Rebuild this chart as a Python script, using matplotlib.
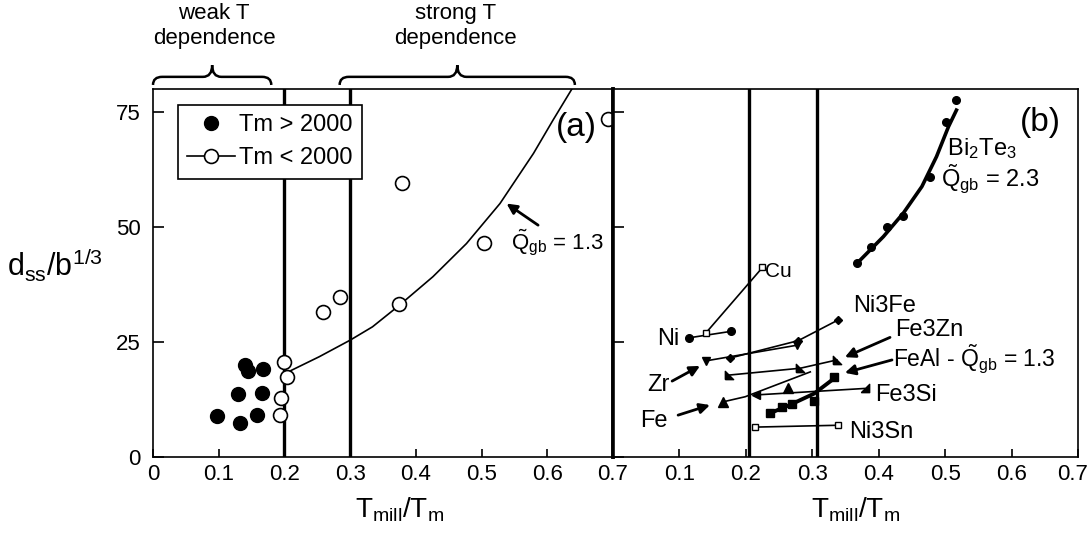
import matplotlib
matplotlib.use("Agg")
import matplotlib.pyplot as plt
import matplotlib.transforms as mtransforms
from matplotlib.path import Path
from matplotlib.patches import PathPatch
from matplotlib.lines import Line2D

# -------------------------------
# Data
# -------------------------------
# panel (a)
hi_tm_x = [0.097, 0.132, 0.158, 0.130, 0.166, 0.140, 0.145, 0.167]
hi_tm_y = [8.9, 7.5, 9.1, 13.7, 14.0, 20.1, 18.8, 19.1]
lo_tm_x = [0.200, 0.204, 0.195, 0.194, 0.258, 0.284, 0.375, 0.379, 0.503, 0.693]
lo_tm_y = [20.7, 17.3, 12.8, 9.1, 31.5, 34.7, 33.3, 59.5, 46.6, 73.5]
fit_a_x = [0.210, 0.253, 0.300, 0.334, 0.375, 0.426, 0.477, 0.528, 0.579, 0.609, 0.637, 0.645]
fit_a_y = [18.8, 21.8, 25.4, 28.3, 33.0, 39.2, 46.4, 55.1, 66.0, 73.3, 79.9, 82.0]

# panel (b)
bite_x = [0.368, 0.389, 0.413, 0.437, 0.477, 0.501, 0.516]
bite_y = [42.2, 45.7, 50.1, 52.4, 60.9, 72.9, 77.6]
bite_fit_x = [0.368, 0.407, 0.437, 0.465, 0.487, 0.505, 0.517]
bite_fit_y = [42.2, 47.9, 53.0, 58.8, 65.3, 71.8, 75.4]

ni_x, ni_y = [0.114, 0.177], [25.9, 27.3]
cu_x, cu_y = [0.140, 0.225], [27.0, 41.2]
ni3fe_x, ni3fe_y = [0.176, 0.279, 0.339], [21.5, 25.3, 29.8]
zr_x, zr_y = [0.140, 0.277], [20.9, 24.3]
fe3zn_x, fe3zn_y = [0.174, 0.282, 0.337], [17.8, 19.3, 21.1]
fe3si_x, fe3si_y = [0.216, 0.379], [13.5, 14.9]
fe_x, fe_y = [0.166, 0.264], [12.0, 15.1]
fe_line_x, fe_line_y = [0.166, 0.199, 0.297], [12.0, 13.1, 18.5]
feal_x = [0.236, 0.254, 0.269, 0.303, 0.333]
feal_y = [9.5, 10.9, 11.6, 12.2, 17.5]
feal_fit_x, feal_fit_y = [0.236, 0.266, 0.303, 0.333], [9.5, 11.3, 13.8, 17.1]
ni3sn_x, ni3sn_y = [0.214, 0.339], [6.5, 6.9]

xticks_a = [0, 0.1, 0.2, 0.3, 0.4, 0.5, 0.6, 0.7]
xticks_b = [0.1, 0.2, 0.3, 0.4, 0.5, 0.6, 0.7]
yticks = [0, 25, 50, 75]
vlines_a = [0.2, 0.3]
vlines_b = [0.205, 0.307]

# -------------------------------
# Style
# -------------------------------
plt.rcParams.update({
    "font.family": ["Liberation Sans", "DejaVu Sans"],
    "mathtext.fontset": "custom",
    "mathtext.rm": "Liberation Sans",
    "mathtext.it": "Liberation Sans:italic",
    "mathtext.bf": "Liberation Sans:bold",
    "xtick.direction": "in",
    "ytick.direction": "in",
    "axes.linewidth": 1.2,
})

fig = plt.figure(figsize=(10.91, 5.46), dpi=100)
W, H = 1091, 546
# axes boxes in pixels measured from the top-left of the picture
ax_a = fig.add_axes([153 / W, 1 - 457 / H, (613 - 153) / W, (457 - 89) / H])
ax_b = fig.add_axes([613 / W, 1 - 457 / H, (1078 - 613) / W, (457 - 89) / H])

for ax in (ax_a, ax_b):
    ax.set_xlim(0, 0.7)
    ax.set_ylim(0, 80)
    ax.set_yticks(yticks)
    ax.tick_params(axis="y", length=8, width=1.2, pad=9, labelsize=16)
    ax.tick_params(axis="x", length=6, width=1.2, pad=5, labelsize=16)

ax_a.set_xticks(xticks_a)
ax_a.set_xticklabels(["0"] + [f"{v:.1f}" for v in xticks_a[1:]])
ax_b.set_xticks(xticks_b)
ax_b.set_xticklabels([f"{v:.1f}" for v in xticks_b])
ax_b.set_yticklabels([])
# keep the last label inside the picture
last = ax_b.get_xticklabels()[-1]
last.set_transform(last.get_transform() +
                   mtransforms.ScaledTranslation(-4 / 72, 0, fig.dpi_scale_trans))
ax_a.spines["right"].set_linewidth(2.6)
ax_b.spines["left"].set_linewidth(2.6)

# -------------------------------
# Panel (a)
# -------------------------------
for v in vlines_a:
    ax_a.axvline(v, color="k", lw=2.4, zorder=1)
ax_a.plot(fit_a_x, fit_a_y, color="k", lw=1.2, zorder=2)
ax_a.plot(hi_tm_x, hi_tm_y, ls="none", marker="o", ms=10, mfc="k", mec="k", zorder=3)
ax_a.plot(lo_tm_x, lo_tm_y, ls="none", marker="o", ms=10, mfc="white", mec="k",
          mew=1.2, zorder=3, clip_on=False)

h1 = Line2D([], [], ls="none", marker="o", ms=10, mfc="k", mec="k")
h2 = Line2D([], [], color="k", lw=1.2, marker="o", ms=10, mfc="white", mec="k", mew=1.2)
leg = ax_a.legend([h1, h2], ["Tm > 2000", "Tm < 2000"], loc="upper left",
                  bbox_to_anchor=(178 / W, 1 - 105 / H), bbox_transform=fig.transFigure,
                  fontsize=17, frameon=True, fancybox=False, framealpha=1,
                  edgecolor="k", borderpad=0.4, labelspacing=0.45,
                  handlelength=2.0, handletextpad=0.2, borderaxespad=0)
leg.get_frame().set_linewidth(1.2)
leg.set_zorder(5)

ax_a.text(0.644, 71.7, "(a)", fontsize=24, ha="center", va="center")
ax_a.annotate("", xy=(0.538, 55.1), xytext=(0.586, 50.4),
              arrowprops=dict(arrowstyle="-|>,head_length=0.6,head_width=0.3",
                              color="k", lw=2, shrinkA=0, shrinkB=0))
ax_a.text(0.545, 46.5, r"$\mathregular{\tilde{Q}_{gb}}$ = 1.3", fontsize=16,
          ha="left", va="center")


def brace(ax, x0, x1, y0=1.011, y1=1.033, y2=1.065, r=0.014):
    trans = mtransforms.blended_transform_factory(ax.transData, ax.transAxes)
    xm = (x0 + x1) / 2
    verts = [(x0, y0), (x0, y1), (x0 + r, y1), (xm - r, y1), (xm, y1), (xm, y2),
             (xm, y1), (xm + r, y1), (x1 - r, y1), (x1, y1), (x1, y0)]
    codes = [Path.MOVETO, Path.CURVE3, Path.CURVE3, Path.LINETO, Path.CURVE3, Path.CURVE3,
             Path.CURVE3, Path.CURVE3, Path.LINETO, Path.CURVE3, Path.CURVE3]
    ax.add_patch(PathPatch(Path(verts, codes), fill=False, lw=1.8, color="k",
                           transform=trans, clip_on=False))


brace(ax_a, 0.0, 0.18)
brace(ax_a, 0.284, 0.642)
top = mtransforms.blended_transform_factory(ax_a.transData, ax_a.transAxes)
ax_a.text(0.093, 1.17, "weak T\ndependence", transform=top, ha="center", va="center",
          fontsize=16, linespacing=1.25)
ax_a.text(0.460, 1.17, "strong T\ndependence", transform=top, ha="center", va="center",
          fontsize=16, linespacing=1.25)

# -------------------------------
# Panel (b)
# -------------------------------
for v in vlines_b:
    ax_b.axvline(v, color="k", lw=2.4, zorder=1)

ax_b.plot(bite_fit_x, bite_fit_y, color="k", lw=2.6)
ax_b.plot(bite_x, bite_y, ls="none", marker="o", ms=5.5, color="k")

ax_b.plot(ni_x, ni_y, color="k", lw=1.2, marker="o", ms=5.5)
ax_b.plot(cu_x, cu_y, color="k", lw=1.2, marker="s", ms=5, mfc="white", mec="k")
ax_b.plot(zr_x, zr_y, color="k", lw=1.2, marker="v", ms=6)
ax_b.plot(ni3fe_x, ni3fe_y, color="k", lw=1.2, marker="D", ms=4.5)
tri_ll = [(-1, -1), (1, -1), (-1, 1), (-1, -1)]
tri_lr = [(-1, -1), (1, -1), (1, 1), (-1, -1)]
ax_b.plot(fe3zn_x, fe3zn_y, color="k", lw=1.2, marker=tri_ll, ms=6)
ax_b.plot(fe3si_x, fe3si_y, color="k", lw=1.2)
ax_b.plot(fe3si_x[:1], fe3si_y[:1], ls="none", marker="<", ms=6, color="k")
ax_b.plot(fe3si_x[1:], fe3si_y[1:], ls="none", marker=tri_lr, ms=6, color="k")
ax_b.plot(fe_line_x, fe_line_y, color="k", lw=1.2)
ax_b.plot(fe_x, fe_y, ls="none", marker="^", ms=7, color="k")
ax_b.plot(feal_fit_x, feal_fit_y, color="k", lw=2.8)
ax_b.plot(feal_x, feal_y, ls="none", marker="s", ms=6, color="k")
ax_b.plot(ni3sn_x, ni3sn_y, color="k", lw=1.2, marker="s", ms=5, mfc="white", mec="k")

lbl = dict(fontsize=17, va="center")
ax_b.text(0.229, 40.4, "Cu", ha="left", fontsize=15, va="center")
ax_b.text(0.083, 25.7, "Ni", ha="center", **lbl)
ax_b.text(0.361, 32.8, "Ni3Fe", ha="left", **lbl)
ax_b.text(0.425, 27.6, "Fe3Zn", ha="left", **lbl)
ax_b.text(0.421, 21.3, r"FeAl - $\mathregular{\tilde{Q}_{gb}}$ = 1.3", ha="left",
          fontsize=16.5, va="center")
ax_b.text(0.394, 13.5, "Fe3Si", ha="left", **lbl)
ax_b.text(0.355, 5.4, "Ni3Sn", ha="left", **lbl)
ax_b.text(0.068, 15.7, "Zr", ha="center", **lbl)
ax_b.text(0.062, 7.8, "Fe", ha="center", **lbl)
ax_b.text(0.494, 63.2, r" $\mathregular{Bi_2Te_3}$" + "\n" + r"$\mathregular{\tilde{Q}_{gb}}$ = 2.3",
          ha="left", linespacing=1.05, **lbl)
ax_b.text(0.643, 72.8, "(b)", fontsize=24, ha="center", va="center")

arrow = dict(arrowstyle="-|>,head_length=0.6,head_width=0.3", color="k", lw=2,
             shrinkA=0, shrinkB=0)
ax_b.annotate("", xy=(0.131, 19.8), xytext=(0.089, 16.5), arrowprops=arrow)
ax_b.annotate("", xy=(0.146, 11.3), xytext=(0.098, 9.1), arrowprops=arrow)
ax_b.annotate("", xy=(0.349, 21.7), xytext=(0.417, 26.0), arrowprops=arrow)
ax_b.annotate("", xy=(0.349, 18.3), xytext=(0.420, 21.1), arrowprops=arrow)

# -------------------------------
# Axis labels
# -------------------------------
fig.text(55 / W, 1 - 265 / H, r"$\mathregular{d_{ss}/b^{1/3}}$", fontsize=22,
         ha="center", va="center")
fig.text(400 / W, 1 - 517 / H, r"$\mathregular{T_{mill}/T_m}$", fontsize=20,
         ha="center", va="baseline")
fig.text(856 / W, 1 - 517 / H, r"$\mathregular{T_{mill}/T_m}$", fontsize=20,
         ha="center", va="baseline")

fig.savefig("out.png", dpi=100)
